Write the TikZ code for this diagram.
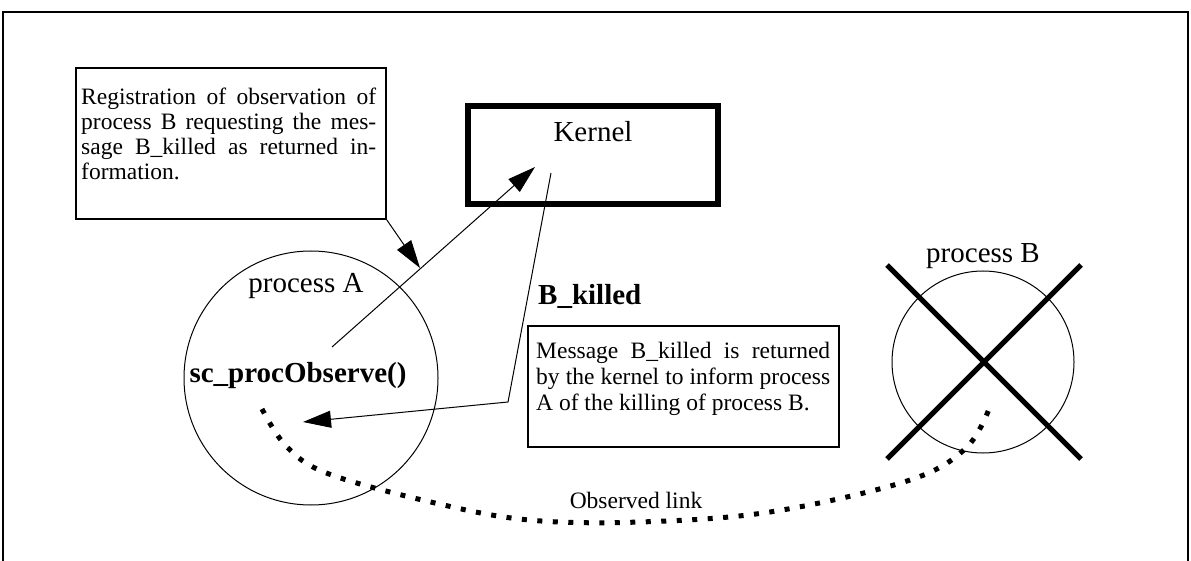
\documentclass[tikz,border=0pt]{standalone}
\usepackage{fontspec}
\setmainfont{Liberation Serif}
\usetikzlibrary{arrows.meta}
\newcommand\bodyfs{\fontsize{23.5pt}{25pt}\selectfont}
\newcommand\msgfs{\fontsize{23.5pt}{26pt}\selectfont}
\newcommand\labelfs{\fontsize{29pt}{34pt}\selectfont}
\begin{document}
\begin{tikzpicture}[x=1pt,y=-1pt,
  boxstyle/.style={draw, line width=1.6pt, inner sep=0pt, anchor=north west},
  arr/.style={line width=1pt, -{Triangle[length=28pt,width=17pt]}},
  body/.style={font=\bodyfs, inner sep=0pt, anchor=north west, align=left},
  lbl/.style={font=\labelfs, inner sep=0pt, anchor=base},
  proc/.style={draw, circle, line width=1pt, inner sep=0pt},
  cross/.style={line width=5pt},
  obsline/.style={line width=5pt, dash pattern=on 5pt off 10.5pt}
]
\useasboundingbox (0,0) rectangle (1191,561);
% frame
\draw[line width=2pt] (3,561) -- (3,12) -- (1188,12) -- (1188,561);

% registration note
\node[boxstyle, minimum width=310pt, minimum height=151pt] (reg) at (75,67) {};
\node[body] (regtext) at (81,88) {\makebox[295pt][s]{Registration of observation of}\\
\makebox[295pt][s]{process B requesting the mes-}\\
\makebox[295pt][s]{sage B\_killed as returned in-}\\
formation.};

% kernel
\node[draw, line width=6pt, minimum width=250pt, minimum height=98pt, inner sep=0pt] (kernel) at (593,155) {};
\node[lbl] (kerneltext) at (593,142) {Kernel};

% message note
\node[boxstyle, minimum width=311pt, minimum height=121pt] (msg) at (527,325) {};
\node[body, font=\msgfs] (msgtext) at (536,342) {\makebox[294pt][s]{Message B\_killed is returned}\\
\makebox[294pt][s]{by the kernel to inform process}\\
A of the killing of process B.};
\node[lbl, font=\labelfs\bfseries, anchor=base west] (bk) at (538,305) {B\_killed};

% processes
\node[proc, minimum size=254pt] (pA) at (311,378) {};
\node[proc, minimum size=182pt] (pB) at (983,362) {};
\node[lbl] (pAtext) at (306,292) {process A};
\node[lbl, font=\labelfs\bfseries] (obsfn) at (298,382) {sc\_procObserve()};
\node[lbl] (pBtext) at (983,263) {process B};
\draw[cross] (887,265) -- (1081,459);
\draw[cross] (1081,265) -- (887,459);

% arrows
\coordinate (a1e) at (420,268);
\coordinate (a2s) at (332,347);
\coordinate (a2e) at (535,167);
\coordinate (a3s) at (551,173);
\coordinate (a3m) at (508,402);
\coordinate (a3e) at (303,422);
\draw[arr] (reg.south east) -- (a1e);
\draw[arr] (a2s) -- (a2e);
\draw[arr] (a3s) -- (a3m) -- (a3e);

% observed link
\coordinate (obsA) at (262,409);
\coordinate (obsB) at (989,409);
\draw[obsline] plot[smooth, tension=0.6] coordinates {(obsA) (287,447) (329,474) (435,503) (529,520) (640,522) (770,512) (907,481) (965,449) (obsB)};
\node[font=\bodyfs, inner sep=0pt, anchor=base] (obs) at (636,508) {Observed link};
\end{tikzpicture}
\end{document}
